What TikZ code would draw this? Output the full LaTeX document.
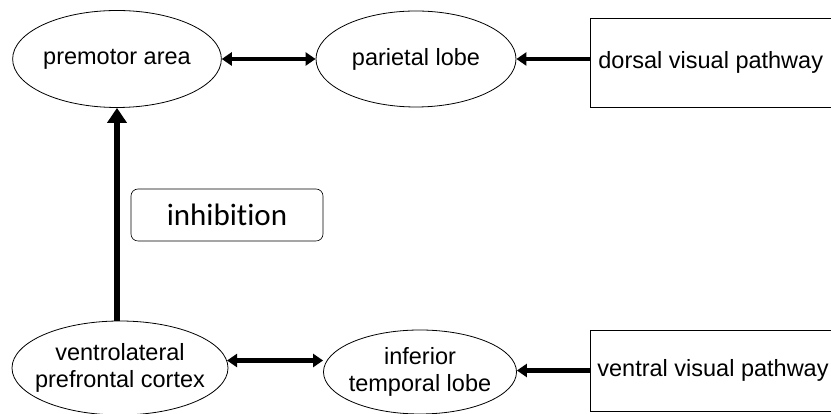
\documentclass[tikz,border=0pt]{standalone}
\usepackage{fontspec}
\setmainfont{Liberation Sans}
\newfontfamily\inhfont[Ligatures={NoCommon}]{Carlito}
\usetikzlibrary{shapes.geometric,arrows.meta}
\begin{document}
\begin{tikzpicture}[x=1pt,y=1pt,
  lbl/.style={font=\fontsize{23.5}{27}\selectfont, align=center},
  oval/.style={ellipse, draw, line width=0.8pt, inner sep=0pt, lbl},
  pathbox/.style={rectangle, draw, line width=0.8pt, anchor=west, align=flush left,
     inner xsep=8pt, text width=250pt, font=\fontsize{23.5}{27}\selectfont},
  dbl/.style={line width=4.5pt, {Triangle[length=10pt,width=13pt]}-{Triangle[length=10pt,width=13pt]}},
  single/.style={line width=4.5pt, -{Triangle[length=10pt,width=13pt]}},
  vert/.style={line width=6pt, -{Triangle[length=15pt,width=19pt]}}
]
\useasboundingbox (0,0) rectangle (831,414);
\node[oval, minimum width=208pt, minimum height=97pt] (pm) at (117,355) {premotor area};
\node[oval, minimum width=200pt, minimum height=96pt] (par) at (416,355) {parietal lobe};
\node[pathbox, minimum height=89pt] (dors) at (590,351.5) {dorsal visual pathway};

\node[oval, minimum width=216pt, minimum height=94pt, inner xsep=-15pt] (vl) at (120,46) {ventrolateral\\prefrontal cortex};
\node[oval, minimum width=193pt, minimum height=84pt, inner xsep=-10pt] (inf) at (420,42) {inferior\\temporal lobe};
\node[pathbox, minimum height=81pt, inner xsep=7pt] (vent) at (590,43.5) {ventral visual pathway};

\node[draw, rounded corners=7pt, line width=0.6pt, minimum width=192pt, minimum height=52pt,
  font=\inhfont\fontsize{31}{34}\selectfont] (inh) at (227,199) {inhibition};

\draw[dbl] (pm.east) -- (par.west);
\draw[single] (dors.west |- par.east) -- (par.east);
\draw[dbl] (vl.4) -- (inf.west |- vl.4);
\draw[single] (vent.west) -- (inf.east |- vent.west);
\draw[vert] (pm.south |- vl.north) -- (pm.south);
\end{tikzpicture}
\end{document}
